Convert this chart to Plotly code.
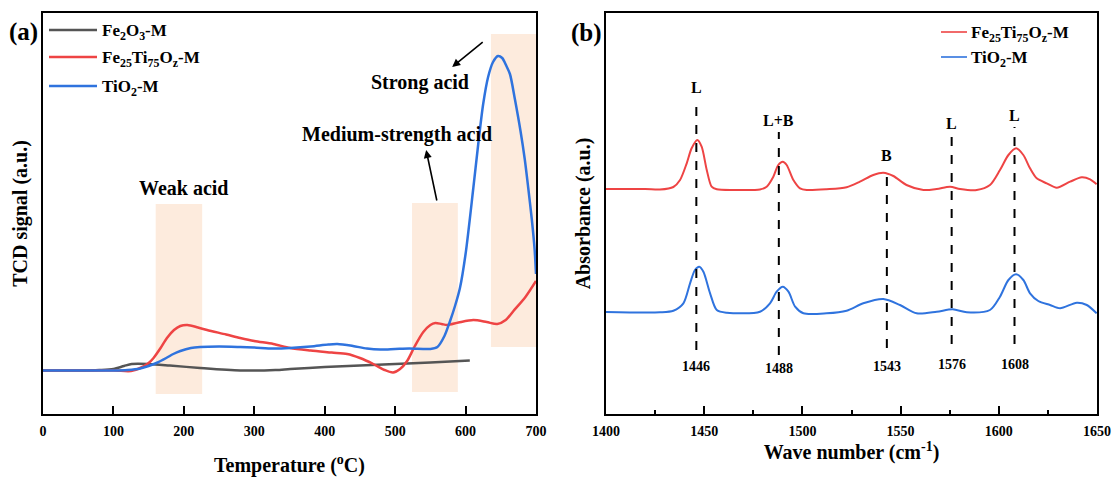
import plotly.graph_objects as go

# ---------------- Panel (a): NH3-TPD style curves ----------------
fe2o3_T = [0, 50, 80, 100, 115, 126, 150, 180, 223, 280, 330, 351, 400, 450, 500, 550, 606]
fe2o3_v = [43.5, 43.5, 44, 45, 48, 50, 50, 48.5, 46, 43.5, 44, 45, 47, 48.5, 50, 51.5, 53.5]

fe25_T = [0, 100, 125, 138, 150, 157, 167, 176, 186, 195, 205, 220, 233, 260, 280, 300, 327, 351,
          380, 410, 432, 450, 469, 485, 497, 507, 517, 528, 540, 550, 557, 566, 574, 590, 611, 630,
          645, 657, 668, 685, 700]
fe25_v = [43.5, 43.5, 43, 46, 51, 56, 66, 76, 84, 88, 89, 86.5, 84, 79.5, 76, 73, 70, 66,
          63.5, 61.5, 60, 56, 50, 44, 41.5, 45, 53, 68, 82, 89, 91, 90, 89, 91.5, 94, 92,
          90, 94, 103, 117, 133]

tio2_T = [0, 100, 120, 138, 150, 161, 175, 185, 195, 210, 223, 250, 280, 300, 327, 351, 380, 405,
          418, 440, 460, 479, 500, 520, 550, 560, 570, 578, 585, 592, 600, 611, 618, 625, 632,
          639, 646, 652, 658, 663, 670, 678, 684, 689, 694, 698, 700]
tio2_v = [43.5, 43.5, 44, 45.5, 48, 51, 56, 60, 63, 66, 67, 67.5, 67, 66.5, 65.5, 66, 67.5, 69.5,
          70, 68, 65.5, 64.5, 65, 65.5, 65, 67, 78, 93, 108, 126, 160, 226, 270, 310, 337,
          352, 358, 356, 348, 340, 315, 283, 255, 226, 195, 165, 140]

temp_ticks = [0, 100, 200, 300, 400, 500, 600, 700]

# acid regions: (T start, T end, signal low, signal high)
region_T0 = [160, 524, 636]
region_T1 = [226, 589, 700]
region_v0 = [20, 22, 67]
region_v1 = [210, 211, 380]

# ---------------- Panel (b): FTIR spectra ----------------
fe_wn = [1400, 1420, 1427.5, 1434.3, 1437.7, 1441.1, 1443.6, 1446.5, 1448.7, 1451.3, 1453.8, 1456.4,
         1465, 1478.4, 1481.8, 1485.2, 1487.7, 1490, 1492, 1495.4, 1498.8, 1502.2, 1512.3, 1522.5,
         1529.3, 1536.1, 1541.2, 1546.3, 1553, 1561.6, 1568.4, 1575.2, 1580.3, 1588.8, 1595.5,
         1600.6, 1604.9, 1608.8, 1612.5, 1615.9, 1619.3, 1624.4, 1629.5, 1636.3, 1642.2, 1646.5, 1649.8]
fe_abs = [225, 225, 224.5, 227, 234, 250.7, 265.7, 274, 267.3, 244, 227.3, 224.7,
          224, 224.5, 227.3, 237.3, 249, 252.3, 249, 234, 225.7, 224, 224.7, 226.7,
          232.3, 239, 241.3, 238, 229, 224, 225, 227.3, 225, 224, 229,
          244, 259, 265.7, 259, 245.7, 235.7, 230.7, 226.3, 232.3, 236.7, 234.7, 229.7]

ti_wn = [1400, 1427.5, 1434.3, 1439.4, 1442.8, 1445.3, 1447.5, 1449.6, 1453, 1456.4, 1461.5, 1478.4,
         1483.5, 1486.9, 1490, 1492.9, 1496.3, 1500.5, 1512.3, 1522.5, 1531, 1541.2, 1549.7, 1558.2,
         1568.4, 1576.5, 1583.7, 1595.5, 1600.6, 1604.9, 1608.8, 1612.5, 1615.9, 1620.1, 1626.1,
         1631.2, 1639.7, 1644.8, 1649.8]
ti_abs = [102, 101.7, 103.3, 110.7, 130.7, 144, 147.3, 142.3, 120.7, 104, 101.3, 102.3,
          110.7, 122.3, 127.3, 122.3, 107.3, 100.7, 100.7, 103.3, 110.7, 115, 109, 100.7,
          102.3, 104.7, 101.7, 104, 117.3, 134, 139.7, 134, 120.7, 113, 109,
          105.7, 111.3, 109, 100.7]

peak_wn = [1446, 1488, 1543, 1576, 1608]
peak_type = ["L", "L+B", "B", "L", "L"]
wn_ticks = [1400, 1450, 1500, 1550, 1600, 1650]

# ---------------- styling / layout constants ----------------
FONT = "Liberation Serif"
GRAY, RED, BLUE = "#555555", "#EE4444", "#2F73DE"
SHADE = "#FDEBDD"
W, H = 1113, 477
ML, MR, MT, MB = 43, 16, 13, 63
PW = W - ML - MR
PH = H - MT - MB

def px_x(px):
    return (px - ML) / PW

def px_y(py):
    return (H - MB - py) / PH

fig = go.Figure()

# panel a traces
fig.add_trace(go.Scatter(x=fe2o3_T, y=fe2o3_v, mode="lines", name="Fe2O3-M", showlegend=False,
                         line=dict(color=GRAY, width=2.5, shape="spline", smoothing=0.8), xaxis="x", yaxis="y"))
fig.add_trace(go.Scatter(x=fe25_T, y=fe25_v, mode="lines", name="Fe25Ti75Oz-M", showlegend=False,
                         line=dict(color=RED, width=2.5, shape="spline", smoothing=0.8), xaxis="x", yaxis="y"))
fig.add_trace(go.Scatter(x=tio2_T, y=tio2_v, mode="lines", name="TiO2-M", showlegend=False,
                         line=dict(color=BLUE, width=2.5, shape="spline", smoothing=0.8), xaxis="x", yaxis="y"))

# panel b traces
fig.add_trace(go.Scatter(x=fe_wn, y=fe_abs, mode="lines", name="Fe25Ti75Oz-M", showlegend=False,
                         line=dict(color=RED, width=2, shape="spline", smoothing=0.8), xaxis="x2", yaxis="y2"))
fig.add_trace(go.Scatter(x=ti_wn, y=ti_abs, mode="lines", name="TiO2-M", showlegend=False,
                         line=dict(color=BLUE, width=2, shape="spline", smoothing=0.8), xaxis="x2", yaxis="y2"))

shapes = []
for t0, t1, v0, v1 in zip(region_T0, region_T1, region_v0, region_v1):
    shapes.append(dict(type="rect", xref="x", yref="y", x0=t0, x1=t1, y0=v0, y1=v1,
                       fillcolor=SHADE, line=dict(width=0), layer="below"))

# dashed peak guide lines (vertical extents in absorbance units)
guide_top = [314, 282, 242, 277, 287]
guide_bot = [64, 59, 66, 70, 70]
type_y = [327, 294, 259, 291, 299]
num_y = [48, 46, 48, 50, 50]
annotations = []
for wn, typ, gt, gb, ty, ny in zip(peak_wn, peak_type, guide_top, guide_bot, type_y, num_y):
    shapes.append(dict(type="line", xref="x2", yref="y2", x0=wn, x1=wn, y0=gb, y1=gt,
                       line=dict(color="black", width=2, dash="dash")))
    annotations.append(dict(x=wn, y=ty, xref="x2", yref="y2", text=typ, showarrow=False,
                            xanchor="center", yanchor="middle",
                            font=dict(family=FONT, size=16, color="black", weight="bold")))
    annotations.append(dict(x=wn, y=ny, xref="x2", yref="y2", text=str(wn), showarrow=False,
                            xanchor="center", yanchor="middle",
                            font=dict(family=FONT, size=14, color="black", weight="bold")))

# panel a text labels and arrows
lab_font = dict(family=FONT, size=20, color="black", weight="bold")
annotations += [
    dict(x=199, y=226, xref="x", yref="y", text="Weak acid", showarrow=False, xanchor="center",
         yanchor="middle", font=lab_font),
    dict(x=503, y=280, xref="x", yref="y", text="Medium-strength acid", showarrow=False,
         xanchor="center", yanchor="middle", font=lab_font),
    dict(x=535, y=332, xref="x", yref="y", text="Strong acid", showarrow=False, xanchor="center",
         yanchor="middle", font=lab_font),
    dict(x=581, y=347, xref="x", yref="y", text="", showarrow=True, ax=32, ay=-26,
         arrowhead=2, arrowsize=1, arrowwidth=1.6, arrowcolor="black"),
    dict(x=544, y=264, xref="x", yref="y", text="", showarrow=True, ax=11, ay=52,
         arrowhead=2, arrowsize=1, arrowwidth=1.6, arrowcolor="black"),
]

# panel labels
annotations += [
    dict(x=px_x(23), y=px_y(32), xref="paper", yref="paper", text="(a)", showarrow=False,
         xanchor="center", yanchor="middle",
         font=dict(family=FONT, size=25, color="black", weight="bold")),
    dict(x=px_x(586), y=px_y(33), xref="paper", yref="paper", text="(b)", showarrow=False,
         xanchor="center", yanchor="middle",
         font=dict(family=FONT, size=25, color="black", weight="bold")),
]

# manual legends
leg_font = dict(family=FONT, size=17, color="black", weight="bold")
leg_a = [("Fe<sub>2</sub>O<sub>3</sub>-M", GRAY, 30), ("Fe<sub>25</sub>Ti<sub>75</sub>O<sub>z</sub>-M", RED, 57),
         ("TiO<sub>2</sub>-M", BLUE, 86)]
for txt, col, py in leg_a:
    shapes.append(dict(type="line", xref="paper", yref="paper", x0=px_x(49), x1=px_x(97),
                       y0=px_y(py), y1=px_y(py), line=dict(color=col, width=2.5)))
    annotations.append(dict(x=px_x(100), y=px_y(py + 2), xref="paper", yref="paper", text=txt,
                            showarrow=False, xanchor="left", yanchor="middle", font=leg_font))
leg_b = [("Fe<sub>25</sub>Ti<sub>75</sub>O<sub>z</sub>-M", RED, 32), ("TiO<sub>2</sub>-M", BLUE, 57)]
for txt, col, py in leg_b:
    shapes.append(dict(type="line", xref="paper", yref="paper", x0=px_x(941), x1=px_x(967),
                       y0=px_y(py), y1=px_y(py), line=dict(color=col, width=1.6)))
    annotations.append(dict(x=px_x(969), y=px_y(py + 2), xref="paper", yref="paper", text=txt,
                            showarrow=False, xanchor="left", yanchor="middle", font=leg_font))

axis_common = dict(showline=True, linecolor="black", linewidth=1.8, mirror=True,
                   showgrid=False, zeroline=False, automargin=False)
tick_font = dict(family=FONT, size=14, color="black", weight="bold")
title_font = dict(family=FONT, size=20, color="black", weight="bold")

fig.update_layout(
    width=W, height=H,
    margin=dict(l=ML, r=MR, t=MT, b=MB, autoexpand=False),
    paper_bgcolor="white", plot_bgcolor="white",
    showlegend=False,
    font=dict(family=FONT, color="black"),
    shapes=shapes,
    annotations=annotations,
    xaxis=dict(domain=[0, px_x(536)], range=[0, 700], tickvals=temp_ticks, ticks="inside",
               ticklen=8, tickwidth=1.5, tickcolor="black", tickfont=tick_font, ticklabelstandoff=3,
               title=dict(text="Temperature (<sup>o</sup>C)", font=title_font, standoff=23),
               anchor="y", **axis_common),
    yaxis=dict(domain=[0, 1], range=[0, 401], showticklabels=False, ticks="",
               title=dict(text="TCD signal (a.u.)", font=title_font, standoff=8),
               anchor="x", **axis_common),
    xaxis2=dict(domain=[px_x(606), 1], range=[1400, 1650], tickvals=wn_ticks, ticks="inside",
                ticklen=8, tickwidth=1.5, tickcolor="black", tickfont=tick_font, ticklabelstandoff=3,
                minor=dict(dtick=25, tick0=1400, ticks="inside", ticklen=4, tickwidth=1.5, tickcolor="black"),
                title=dict(text="Wave number (cm<sup>-1</sup>)", font=title_font, standoff=7),
                anchor="y2", **axis_common),
    yaxis2=dict(domain=[0, 1], range=[0, 401], showticklabels=False, ticks="",
                title=dict(text="Absorbance (a.u.)", font=title_font, standoff=8),
                anchor="x2", **axis_common),
)

fig.write_html("out.html")
